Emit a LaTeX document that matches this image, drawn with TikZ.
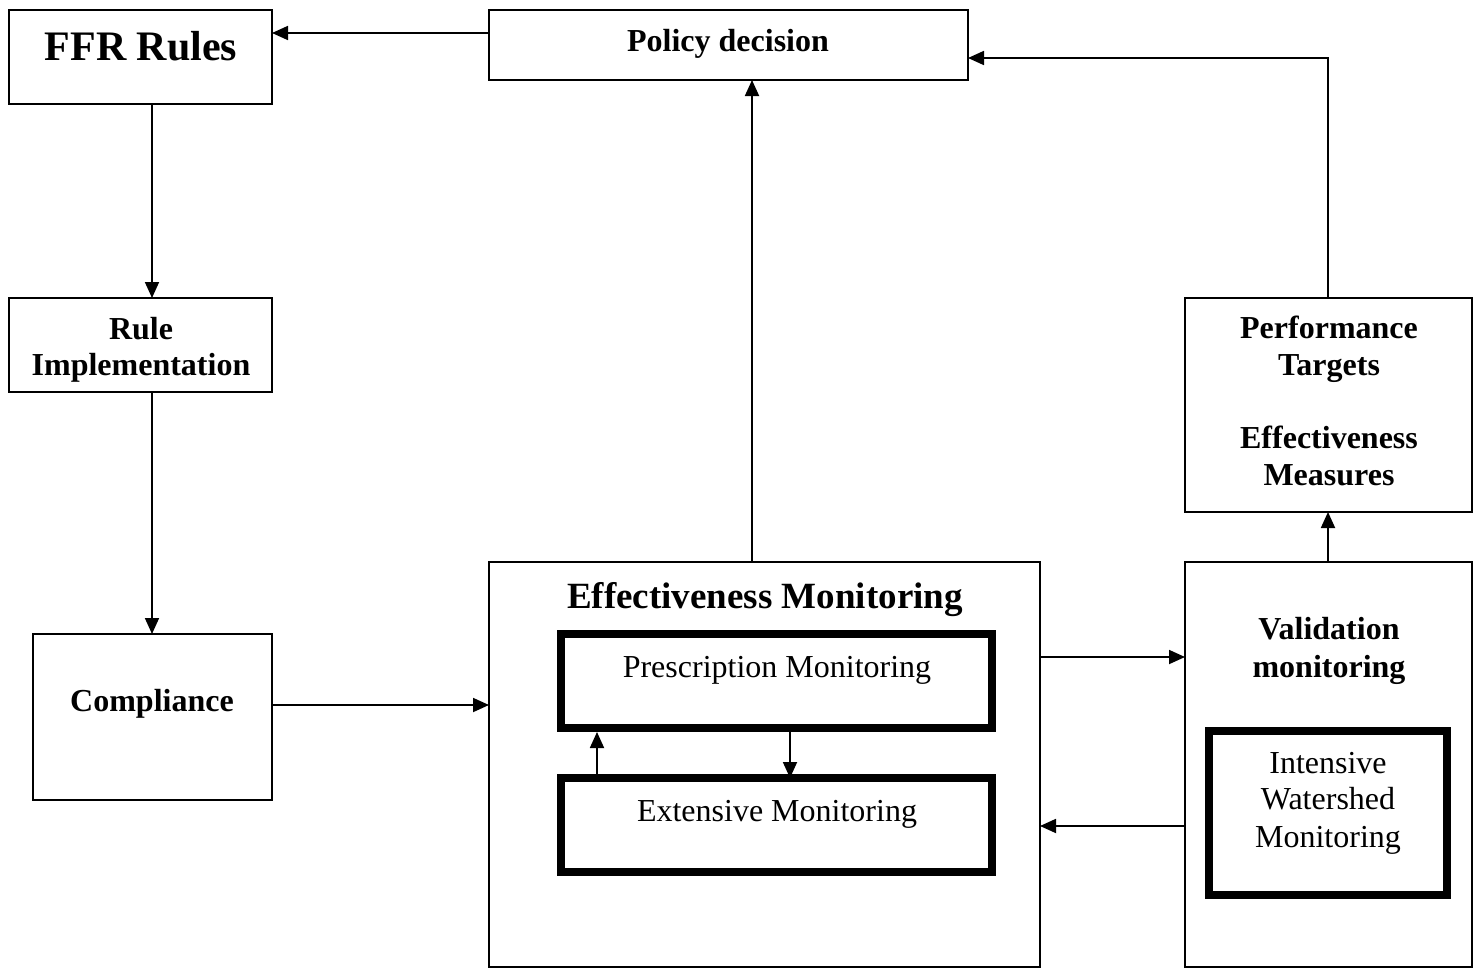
\documentclass[tikz,border=0pt]{standalone}
\usepackage{fontspec}
\setmainfont{Liberation Serif}
\usetikzlibrary{arrows.meta,fit}
\begin{document}
\begin{tikzpicture}[x=0.5pt,y=-0.5pt,
  box/.style={draw, line width=0.9pt, inner sep=0pt, outer sep=0pt},
  thickbox/.style={draw, line width=3.6pt, inner sep=0pt, outer sep=0pt},
  arr/.style={line width=0.9pt, -{Triangle[length=8pt,width=7pt]}},
  txt/.style={anchor=base, inner sep=0pt, font=\fontsize{16}{18}\selectfont},
  btxt/.style={anchor=base, inner sep=0pt, font=\fontsize{16}{18}\selectfont\bfseries}]
\useasboundingbox (0,0) rectangle (1479,969);
% boxes
\node[box, fit={(9,10) (272,104)}] (ffr) {};
\node[box, fit={(489,10) (968,80)}] (pol) {};
\node[box, fit={(9,298) (272,392)}] (rule) {};
\node[box, fit={(33,634) (272,800)}] (comp) {};
\node[box, fit={(489,562) (1040,967)}] (em) {};
\node[thickbox, fit={(561,634) (992,728)}] (presc) {};
\node[thickbox, fit={(561,778) (992,872)}] (ext) {};
\node[box, fit={(1185,562) (1472,967)}] (val) {};
\node[thickbox, fit={(1209,731) (1447,895)}] (intens) {};
\node[box, fit={(1185,298) (1472,512)}] (perf) {};
% texts
\node[btxt, font=\fontsize{21}{24}\selectfont\bfseries] (ffrT) at (141,61) {FFR Rules};
\node[btxt] (polT) at (728,51) {Policy decision};
\node[btxt] (ruleT1) at (141,339) {Rule};
\node[btxt] (ruleT2) at (141,375) {Implementation};
\node[btxt] (compT) at (152,711) {Compliance};
\node[btxt, font=\fontsize{18.5}{22}\selectfont\bfseries] (emT) at (765,608) {Effectiveness Monitoring};
\node[txt] (prescT) at (777,677) {Prescription Monitoring};
\node[txt] (extT) at (777,821) {Extensive Monitoring};
\node[btxt] (valT1) at (1329,639) {Validation};
\node[btxt] (valT2) at (1329,677) {monitoring};
\node[txt] (intT1) at (1328,773) {Intensive};
\node[txt] (intT2) at (1328,809) {Watershed};
\node[txt] (intT3) at (1328,847) {Monitoring};
\node[btxt] (perfT1) at (1329,338) {Performance};
\node[btxt] (perfT2) at (1329,375) {Targets};
\node[btxt] (perfT3) at (1329,448) {Effectiveness};
\node[btxt] (perfT4) at (1329,485) {Measures};
% helper coordinates
\coordinate (yTop) at (0,33);
\coordinate (xLeft) at (152,0);
\coordinate (yComp) at (0,705);
\coordinate (xMid) at (752,0);
\coordinate (yA) at (0,657);
\coordinate (yB) at (0,826);
\coordinate (xR) at (1328,0);
\coordinate (yPerf) at (0,58);
\coordinate (xUp) at (597,0);
\coordinate (xDn) at (790,0);
% connectors
\draw[arr] (pol.west |- yTop) -- (ffr.east |- yTop);
\draw[arr] (ffr.south -| xLeft) -- (rule.north -| xLeft);
\draw[arr] (rule.south -| xLeft) -- (comp.north -| xLeft);
\draw[arr] (comp.east |- yComp) -- (em.west |- yComp);
\draw[arr] (em.north -| xMid) -- (pol.south -| xMid);
\draw[arr] (em.east |- yA) -- (val.west |- yA);
\draw[arr] (val.west |- yB) -- (em.east |- yB);
\draw[arr] (val.north -| xR) -- (perf.south -| xR);
\draw[arr] (perf.north -| xR) |- (pol.east |- yPerf);
\draw[arr, shorten >=2pt] (ext.north -| xUp) -- (presc.south -| xUp);
\draw[arr] (presc.south -| xDn) -- (ext.north -| xDn);
\end{tikzpicture}
\end{document}
